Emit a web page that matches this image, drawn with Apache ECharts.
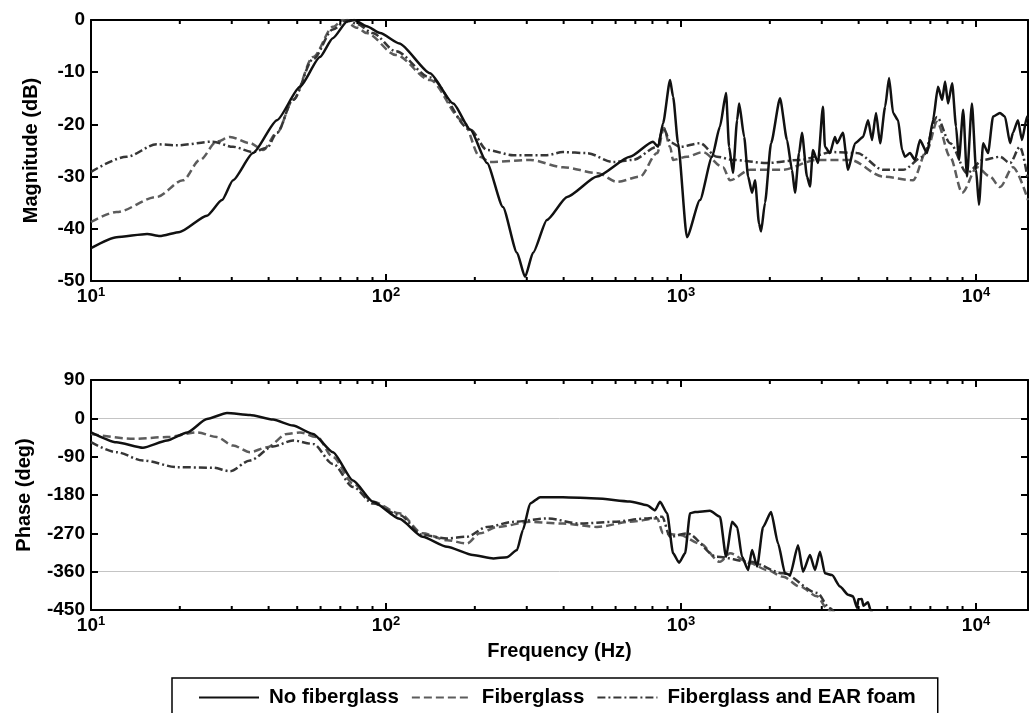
<!DOCTYPE html>
<html>
<head>
<meta charset="utf-8">
<script src="https://cdn.jsdelivr.net/npm/echarts@6/dist/echarts.min.js"></script>
<style>
html,body{margin:0;padding:0;background:#fff;}
#chart{width:1029px;height:713px;}
</style>
</head>
<body>
<div id="chart"></div>
<script>
// ---------- DATA ----------
const seriesNames = ['No fiberglass', 'Fiberglass', 'Fiberglass and EAR foam'];

// Magnitude (dB)
const magFreqNone = [10,12.2,15.5,17.1,20,24.7,27.8,30.3,35.4,42.7,51.1,59.7,66,73.8,78,86,95.5,111,141,169,193,220,249,278,296,315,351,411,519,671,803,836,869,918,940,977,1047,1159,1274,1355,1421,1455,1500,1549,1574,1637,1688,1741,1782,1838,1868,1926,2019,2166,2287,2377,2434,2512,2570,2673,2736,2800,2912,3027,3075,3197,3324,3380,3539,3683,3890,4140,4306,4440,4580,4730,4918,5071,5233,5442,5614,5745,5973,6210,6454,6820,7148,7430,7675,7853,8038,8298,8553,8750,9045,9317,9683,10000,10230,10570,10980,11420,12050,12530,13040,13340,13870,14310,14890,15000];
const magNone = [-43.7,-41.6,-41.0,-41.4,-40.6,-37.5,-34.5,-30.7,-25.5,-19.2,-12.8,-7.1,-3.5,-0.3,0,-1.2,-2.5,-4.5,-10.2,-16,-21,-27.4,-35.8,-44.6,-49.2,-44.6,-38.3,-33.9,-30,-26.2,-23.3,-24.3,-19.8,-11.5,-14.7,-23.6,-41.6,-34.5,-26.2,-20.4,-14,-24.3,-29.3,-19.2,-16,-22.4,-30,-33.1,-30.7,-39,-40.5,-35,-23.6,-15,-23,-28.7,-33.1,-25.5,-21.6,-30,-31.9,-24.9,-27.4,-16.6,-24.3,-25.5,-22.4,-23.6,-21.6,-28.7,-23.6,-22.4,-19.2,-23,-17.8,-23.6,-16.6,-11.1,-17.8,-19.2,-24.9,-26.2,-25.5,-26.8,-23,-25.5,-19.2,-12.8,-15.3,-11.8,-16,-12.1,-20.4,-26.8,-17.2,-30,-16,-28.7,-35.4,-23.6,-25.5,-18.5,-17.8,-18.5,-23.6,-21.6,-19.2,-23,-18.5,-19];

const magFreqFiber = [10,12.2,16.7,20.5,23.4,26.7,29.6,34.6,38.3,42.7,48.4,56.6,66.1,71.5,80,86,108,141,182,208,225,308,398,519,607,726,830,875,918,940,1047,1185,1387,1466,1714,2200,2891,3740,4840,6115,6820,7376,8166,8975,10080,11150,12050,13340,15000];
const magFiber = [-38.7,-36.8,-33.9,-30.7,-26.8,-23.3,-22.4,-23.6,-24.9,-21.6,-15.3,-7.1,-1.3,0,-1.5,-2.5,-6.7,-11.5,-19.2,-26.2,-27.2,-26.8,-28.2,-29.3,-31,-30,-25.5,-20.7,-24.3,-26.8,-26.2,-25.3,-28.2,-30.7,-28.7,-28.7,-26.8,-26.8,-30,-30.7,-24.9,-19.5,-26.2,-33.1,-28.2,-30,-32,-28.2,-34.5];

const magFreqEar = [10,13.2,16.7,19.6,25.9,30.3,35.4,39.5,42.7,48.4,56.6,66.1,73.8,80,90,108,141,193,220,270,351,398,480,588,687,830,869,925,992,1159,1324,1500,1958,2531,3273,3951,4840,5657,6605,7376,8166,9317,10570,12050,13040,14090,15000];
const magEar = [-29.1,-26.2,-23.8,-24,-23.3,-24.3,-25.3,-24.5,-21.6,-15.3,-7.5,-1.8,0,-0.8,-2.5,-6,-11,-21,-24.9,-25.9,-25.9,-25.3,-25.5,-27.2,-26.8,-24.3,-20.7,-23.5,-24.3,-23.6,-26.2,-26.8,-27.4,-26.8,-25.3,-25.5,-28.7,-28.7,-26.2,-18.6,-23.6,-29.3,-26.8,-26.2,-27.4,-24.3,-30.7];

// Phase (deg)
const phFreqNone = [10,12.2,15,18.1,21.2,24.7,28.9,34.6,41.4,48.4,56.6,66.1,77.3,90.4,111,133,161,197,231,257,278,291,308,333,398,519,671,767,816,849,897,940,985,1032,1073,1115,1253,1355,1421,1489,1549,1610,1688,1741,1811,1897,2019,2133,2253,2341,2493,2591,2736,2845,2958,3075,3249,3459,3683,3828,3951,3990,4100,4150,4300,4400,4600];
const phNone = [-32.7,-56,-69,-52,-33,-1.5,12.5,8,-3,-17,-36.6,-79.5,-146,-196,-236,-278,-301.6,-321,-329,-326,-309,-262,-200,-185,-185,-188,-195,-204,-216,-196,-223,-317,-339,-317,-223,-220,-217,-231,-325,-243,-255,-325,-356,-309,-348,-255,-220,-294,-364,-368,-298,-360,-321,-356,-313,-364,-368,-395,-414,-418,-445,-425,-424,-440,-432,-452,-480];

const phFreqFiber = [10,13.9,18.1,22.9,26.7,30.3,34.6,39.5,46.2,51.1,58.4,66.1,77.3,90.4,111,133,161,188,208,238,308,398,519,671,830,869,992,1159,1355,1466,1714,1958,2218,2531,2891,3124,3300];
const phFiber = [-36.6,-48,-44,-33,-44,-64,-79.5,-68,-36.6,-33,-44,-91,-153,-196,-223,-270,-286,-294,-270,-255,-243,-247,-255,-243,-235,-270,-274,-294,-337,-317,-340,-356,-372,-395,-418,-446,-470];

const phFreqEar = [10,12.2,15,19.6,25.9,29.6,34.6,41.4,48.4,56.6,66.1,77.3,90.4,111,133,161,188,220,270,351,455,588,767,862,918,1047,1324,1714,2218,2891,3197,3400];
const phEar = [-56,-79.5,-99,-114.6,-116,-124,-99,-66,-52,-60,-107,-161,-200,-227,-274,-282,-278,-255,-243,-235,-247,-243,-235,-231,-278,-270,-325,-337,-364,-410,-446,-470];

// Axis ranges and ticks
const freqMin = 10, freqMax = 15000;
const minorFreqs = [20,30,40,50,60,70,80,90,200,300,400,500,600,700,800,900,2000,3000,4000,5000,6000,7000,8000,9000];
const magMin = -50, magMax = 0, magStep = 10;
const phMin = -450, phMax = 90, phStep = 90;

// ---------- STYLE ----------
const FONT = '"Liberation Sans", Arial, Helvetica, sans-serif';
const styles = [
  {color: '#111111', type: 'solid', width: 2.5, smooth: 0.2},
  {color: '#5c5c5c', type: [8, 4], width: 2.5, smooth: 0.3},
  {color: '#363636', type: [8, 3, 2, 3], width: 2.5, smooth: 0.3}
];

function pairs(xs, ys) { return xs.map((x, i) => [x, ys[i]]); }

const chart = echarts.init(document.getElementById('chart'), null, {renderer: 'canvas'});

const xLabel = {
  margin: 5,
  showMaxLabel: false,
  formatter: v => '{b|10}{s|' + Math.round(Math.log10(v)) + '}',
  rich: {
    b: {fontSize: 19, fontWeight: 'bold', fontFamily: FONT, color: '#000', lineHeight: 20, padding: [6, 0, 0, 0], verticalAlign: 'bottom'},
    s: {fontSize: 13, fontWeight: 'bold', fontFamily: FONT, color: '#000', lineHeight: 13, verticalAlign: 'top'}
  }
};
const axLine = {show: true, onZero: false, lineStyle: {color: '#000', width: 2}};
const tickIn = {show: true, inside: true, length: 7, lineStyle: {color: '#000', width: 2}};

function xAx(grid, pos, labels, extra) {
  return Object.assign({
    type: 'log', logBase: 10, gridIndex: grid, position: pos, min: freqMin, max: freqMax,
    axisLine: axLine, axisTick: tickIn, splitLine: {show: false},
    axisLabel: labels ? xLabel : {show: false}
  }, extra || {});
}
function yAx(grid, pos, labels, mn, mx, step, extra) {
  return Object.assign({
    type: 'value', gridIndex: grid, position: pos, min: mn, max: mx, interval: step,
    axisLine: axLine, axisTick: tickIn, splitLine: {show: false},
    axisLabel: labels ? {margin: 6, fontSize: 19, fontWeight: 'bold', fontFamily: FONT, color: '#000'} : {show: false}
  }, extra || {});
}

function minorTickSeries(xi, yi, yAnchor) {
  return {
    type: 'custom', xAxisIndex: xi, yAxisIndex: yi, silent: true, z: 5, clip: false,
    data: minorFreqs.map(f => [f, yAnchor]),
    encode: {x: 0, y: 1},
    renderItem: function (params, api) {
      const cs = params.coordSys;
      const x = api.coord([api.value(0), api.value(1)])[0];
      const st = {stroke: '#000', lineWidth: 2};
      return {type: 'group', children: [
        {type: 'line', shape: {x1: x, y1: cs.y + cs.height, x2: x, y2: cs.y + cs.height - 4}, style: st},
        {type: 'line', shape: {x1: x, y1: cs.y, x2: x, y2: cs.y + 4}, style: st}
      ]};
    }
  };
}

function lineSeries(name, xi, yi, data, st, z) {
  return {
    name: name, type: 'line', xAxisIndex: xi, yAxisIndex: yi, data: data,
    symbol: 'none', showSymbol: false, clip: true, z: z,
    smooth: st.smooth, smoothMonotone: 'x',
    lineStyle: {color: st.color, type: st.type, width: st.width},
    itemStyle: {color: st.color}
  };
}

const option = {
  animation: false,
  backgroundColor: '#ffffff',
  textStyle: {fontFamily: FONT},
  grid: [
    {left: 91, right: 1, top: 20, height: 261},
    {left: 91, right: 1, top: 380, height: 230}
  ],
  xAxis: [
    xAx(0, 'bottom', true),
    xAx(0, 'top', false),
    xAx(1, 'bottom', true, {
      name: 'Frequency (Hz)', nameLocation: 'middle', nameGap: 31,
      nameTextStyle: {fontSize: 20, fontWeight: 'bold', fontFamily: FONT, color: '#000'}
    }),
    xAx(1, 'top', false)
  ],
  yAxis: [
    yAx(0, 'left', true, magMin, magMax, magStep, {
      name: 'Magnitude (dB)', nameLocation: 'middle', nameGap: 50, nameRotate: 90,
      nameTextStyle: {fontSize: 20, fontWeight: 'bold', fontFamily: FONT, color: '#000'}
    }),
    yAx(0, 'right', false, magMin, magMax, magStep),
    yAx(1, 'left', true, phMin, phMax, phStep, {
      name: 'Phase (deg)', nameLocation: 'middle', nameGap: 57, nameRotate: 90,
      nameTextStyle: {fontSize: 20, fontWeight: 'bold', fontFamily: FONT, color: '#000'},
      splitLine: {show: true, lineStyle: {color: ['rgba(0,0,0,0)', '#c4c4c4', 'rgba(0,0,0,0)', 'rgba(0,0,0,0)'], width: 1}}
    }),
    yAx(1, 'right', false, phMin, phMax, phStep)
  ],
  legend: {
    data: seriesNames,
    left: 172, top: 678,
    orient: 'horizontal',
    itemWidth: 60, itemHeight: 14, itemGap: 12,
    padding: [9, 22, 30, 26],
    borderColor: '#000', borderWidth: 1.5,
    selectedMode: false,
    itemStyle: {color: 'rgba(0,0,0,0)', borderWidth: 0, opacity: 0},
    textStyle: {fontSize: 20.5, fontWeight: 'bold', fontFamily: FONT, color: '#000', padding: [0, 0, 0, 5]}
  },
  series: [
    lineSeries(seriesNames[0], 0, 0, pairs(magFreqNone, magNone), styles[0], 4),
    lineSeries(seriesNames[1], 0, 0, pairs(magFreqFiber, magFiber), styles[1], 3),
    lineSeries(seriesNames[2], 0, 0, pairs(magFreqEar, magEar), styles[2], 3),
    lineSeries(seriesNames[0], 2, 2, pairs(phFreqNone, phNone), styles[0], 4),
    lineSeries(seriesNames[1], 2, 2, pairs(phFreqFiber, phFiber), styles[1], 3),
    lineSeries(seriesNames[2], 2, 2, pairs(phFreqEar, phEar), styles[2], 3),
    minorTickSeries(0, 0, (magMin + magMax) / 2),
    minorTickSeries(2, 2, (phMin + phMax) / 2)
  ]
};
chart.setOption(option);
</script>
</body>
</html>
